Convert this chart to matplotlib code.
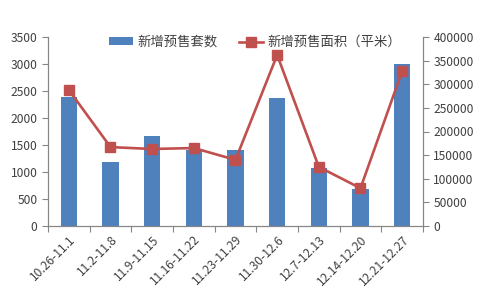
import numpy as np
import matplotlib.pyplot as plt
import matplotlib

matplotlib.rcParams['font.family'] = ['Noto Sans CJK SC', 'DejaVu Sans']

weeks = ['10.26-11.1', '11.2-11.8', '11.9-11.15', '11.16-11.22', '11.23-11.29',
         '11.30-12.6', '12.7-12.13', '12.14-12.20', '12.21-12.27']
units = [2380, 1190, 1660, 1400, 1400, 2370, 1070, 685, 3000]
area = [288000, 167000, 163000, 165000, 140000, 362000, 125000, 80000, 328000]

bar_color = '#4F81BD'
line_color = '#C0504D'
grey = '#868686'
txt = '#404040'

fig = plt.figure(figsize=(4.78, 2.94), dpi=100)
ax = fig.add_axes([48/478, 1 - 226/294, 375/478, 189/294])
ax2 = ax.twinx()

x = np.arange(len(weeks))
b = ax.bar(x, units, width=0.39, color=bar_color, label='新增预售套数', zorder=2)
l, = ax2.plot(x, area, color=line_color, lw=1.9, marker='s', ms=7,
              label='新增预售面积（平米）', zorder=3)

ax.set_xlim(-0.5, len(weeks) - 0.5)
ax.set_ylim(0, 3500)
ax.set_yticks(np.arange(0, 3501, 500))
ax2.set_ylim(0, 400000)
ax2.set_yticks(np.arange(0, 400001, 50000))

ax.set_xticks(np.arange(-0.5, len(weeks), 1))
ax.set_xticklabels([])
ax.set_xticks(x, minor=True)
ax.set_xticklabels(weeks, minor=True, rotation=45, ha='right', rotation_mode='anchor')
ax.tick_params(axis='x', which='minor', length=0, pad=5, labelsize=8.7, labelcolor=txt)
ax.tick_params(axis='x', which='major', length=4, color=grey)
ax.tick_params(axis='y', length=4, color=grey, labelsize=8.7, labelcolor=txt)
ax2.tick_params(axis='y', length=4, color=grey, labelsize=8.7, labelcolor=txt)

for a in (ax, ax2):
    a.spines['top'].set_visible(False)
    for s in ('left', 'right', 'bottom'):
        a.spines[s].set_color(grey)

ax.set_zorder(ax2.get_zorder() - 1)
ax2.patch.set_visible(False)

fig.legend([b, l], ['新增预售套数', '新增预售面积（平米）'], loc='center',
           bbox_to_anchor=(255/478, 1 - 42/294), ncol=2, frameon=False,
           fontsize=9.6, handlelength=1.8, handleheight=0.5, columnspacing=1.6,
           labelcolor=txt, handletextpad=0.35)

fig.savefig('out.png', dpi=100)
